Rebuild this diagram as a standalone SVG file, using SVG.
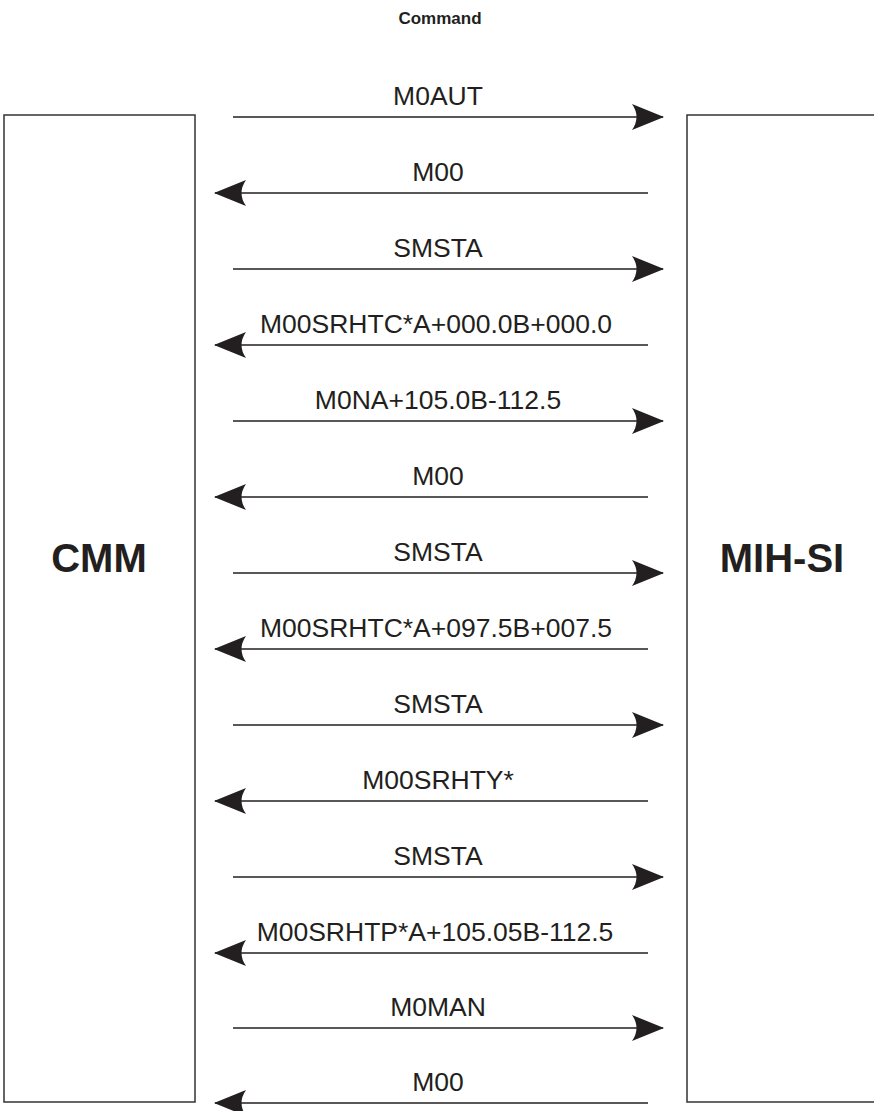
<svg xmlns="http://www.w3.org/2000/svg" width="874" height="1111" viewBox="0 0 874 1111">
<style>
.box{fill:none;stroke:#333;stroke-width:1.5}
.conn{stroke:#231f20;stroke-width:1.5;fill:none;marker-end:url(#ah)}
.lbl{font-family:"Liberation Sans",Arial,sans-serif;font-size:26.5px;fill:#231f20;text-anchor:middle}
.big{font-family:"Liberation Sans",Arial,sans-serif;font-size:40px;font-weight:bold;fill:#231f20;text-anchor:middle}
.title{font-family:"Liberation Sans",Arial,sans-serif;font-size:17px;font-weight:bold;fill:#231f20;text-anchor:middle}
</style>
<defs>
<marker id="ah" viewBox="0 0 32 26" refX="31" refY="13" markerWidth="32" markerHeight="26" markerUnits="userSpaceOnUse" orient="auto">
<path d="M0,0 L32,13 L0,26 Q9,13 0,0 Z" fill="#231f20"/>
</marker>
</defs>
<rect width="874" height="1111" fill="#fff"/>
<text class="title" x="440" y="24">Command</text>
<g id="cmm">
<rect class="box" x="4" y="115" width="191" height="987"/>
<text class="big" x="99" y="572">CMM</text>
</g>
<g id="mihsi">
<path class="box" d="M880,115 H687 V1102 H880"/>
<text class="big" x="782" y="572">MIH-SI</text>
</g>
<g id="connectors">
<line class="conn" x1="233" y1="117" x2="663" y2="117"/>
<line class="conn" x1="648" y1="193" x2="215" y2="193"/>
<line class="conn" x1="233" y1="269" x2="663" y2="269"/>
<line class="conn" x1="648" y1="345" x2="215" y2="345"/>
<line class="conn" x1="233" y1="421" x2="663" y2="421"/>
<line class="conn" x1="648" y1="497" x2="215" y2="497"/>
<line class="conn" x1="233" y1="573" x2="663" y2="573"/>
<line class="conn" x1="648" y1="649" x2="215" y2="649"/>
<line class="conn" x1="233" y1="725" x2="663" y2="725"/>
<line class="conn" x1="648" y1="801" x2="215" y2="801"/>
<line class="conn" x1="233" y1="877" x2="663" y2="877"/>
<line class="conn" x1="648" y1="953" x2="215" y2="953"/>
<line class="conn" x1="233" y1="1028" x2="663" y2="1028"/>
<line class="conn" x1="648" y1="1103" x2="215" y2="1103"/>
</g>
<g id="labels">
<text class="lbl" x="438" y="105">M0AUT</text>
<text class="lbl" x="438" y="181">M00</text>
<text class="lbl" x="438" y="257">SMSTA</text>
<text class="lbl" x="436" y="333">M00SRHTC*A+000.0B+000.0</text>
<text class="lbl" x="438" y="409">M0NA+105.0B-112.5</text>
<text class="lbl" x="438" y="485">M00</text>
<text class="lbl" x="438" y="561">SMSTA</text>
<text class="lbl" x="436" y="637">M00SRHTC*A+097.5B+007.5</text>
<text class="lbl" x="438" y="713">SMSTA</text>
<text class="lbl" x="438" y="789">M00SRHTY*</text>
<text class="lbl" x="438" y="865">SMSTA</text>
<text class="lbl" x="435" y="941">M00SRHTP*A+105.05B-112.5</text>
<text class="lbl" x="438" y="1016">M0MAN</text>
<text class="lbl" x="438" y="1091">M00</text>
</g>
</svg>
